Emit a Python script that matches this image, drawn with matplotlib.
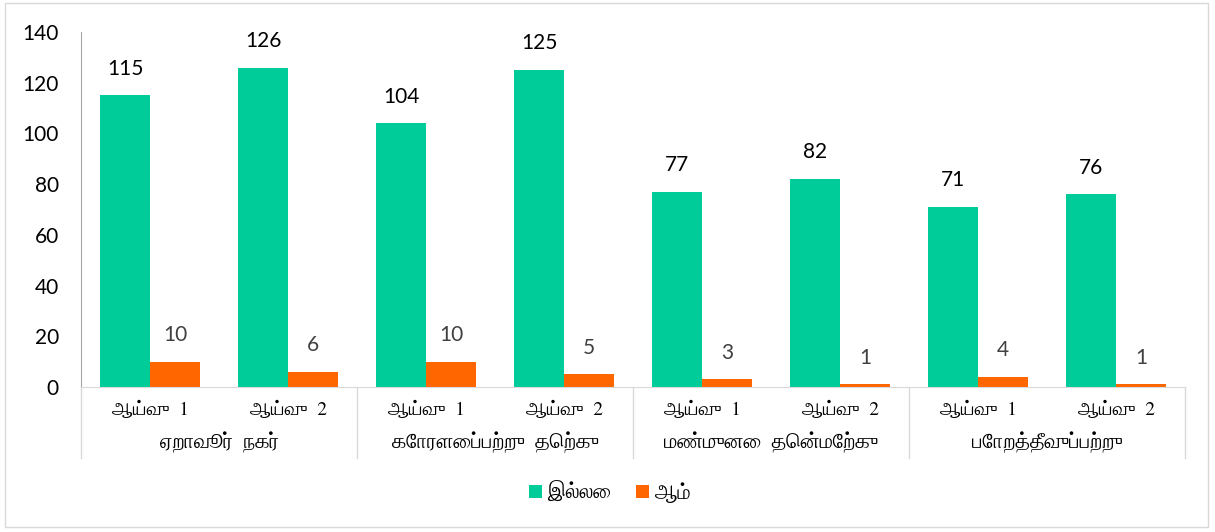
import matplotlib
matplotlib.use("Agg")
import matplotlib.pyplot as plt
from matplotlib.patches import Rectangle, Patch
from matplotlib.lines import Line2D
import numpy as np

groups = ["ஏறாவூர்  நகர்", "கோரளைப்பற்று  தெற்கு", "மண்முனை  தென்மேற்கு", "போறத்தீவுப்பற்று"]
surveys = ["ஆய்வு  1", "ஆய்வு  2"]
series_names = ["இல்லை", "ஆம்"]
no_vals = [115, 126, 104, 125, 77, 82, 71, 76]
yes_vals = [10, 6, 10, 5, 3, 1, 4, 1]

green = "#00CC99"
orange = "#FF6600"
tamil = ["FreeSerif", "DejaVu Sans"]
num_font = "Lato"

fig = plt.figure(figsize=(12.15, 5.32), dpi=100)
fig.patches.append(Rectangle((0.004, 0.009), 0.99, 0.986, transform=fig.transFigure,
                             fill=False, edgecolor="#d9d9d9", linewidth=1))

ax = fig.add_axes([81 / 1215, 1 - 387 / 532, (1185 - 81) / 1215, (387 - 32) / 532])
x = np.arange(len(no_vals))
w = 0.362
b1 = ax.bar(x - w / 2, no_vals, w, color=green)
b2 = ax.bar(x + w / 2, yes_vals, w, color=orange)

for rect, v in zip(b1, no_vals):
    ax.annotate(str(v), (rect.get_x() + rect.get_width() / 2, v), xytext=(0, 12),
                textcoords="offset points", ha="center", va="bottom",
                fontsize=15, family=num_font, color="#000000")
for rect, v in zip(b2, yes_vals):
    ax.annotate(str(v), (rect.get_x() + rect.get_width() / 2, v), xytext=(0, 12),
                textcoords="offset points", ha="center", va="bottom",
                fontsize=15, family=num_font, color="#404040")

ax.set_xlim(-0.5, len(no_vals) - 0.5)
ax.set_ylim(0, 140)
ax.set_yticks(range(0, 141, 20))
ax.tick_params(axis="y", length=0, pad=16, labelsize=15)
for lab in ax.get_yticklabels():
    lab.set_family(num_font)
ax.set_xticks([])
for s in ["top", "right"]:
    ax.spines[s].set_visible(False)
ax.spines["left"].set_color("#a6a6a6")
ax.spines["bottom"].set_color("#d9d9d9")

# two-level category axis below the plot
trans = ax.get_xaxis_transform()
for i in range(len(groups) + 1):
    xb = i * 2 - 0.5
    ax.add_line(Line2D([xb, xb], [0, -71 / 355], transform=trans, color="#d9d9d9",
                       linewidth=1, clip_on=False))
for i in x:
    ax.text(i, -23 / 355, surveys[i % 2], transform=trans, ha="center", va="center",
            fontsize=14, family=tamil)
for g, name in enumerate(groups):
    ax.text(g * 2 + 0.5, -56 / 355, name, transform=trans, ha="center", va="center",
            fontsize=15, family=tamil)

handles = [Patch(facecolor=green), Patch(facecolor=orange)]
fig.legend(handles, series_names, loc="center", bbox_to_anchor=(610 / 1215, 1 - 493 / 532),
           ncol=2, frameon=False, prop={"family": tamil, "size": 15},
           handlelength=0.6, handleheight=0.6, handletextpad=0.3, columnspacing=1.2)

fig.savefig("out.png", dpi=100)
